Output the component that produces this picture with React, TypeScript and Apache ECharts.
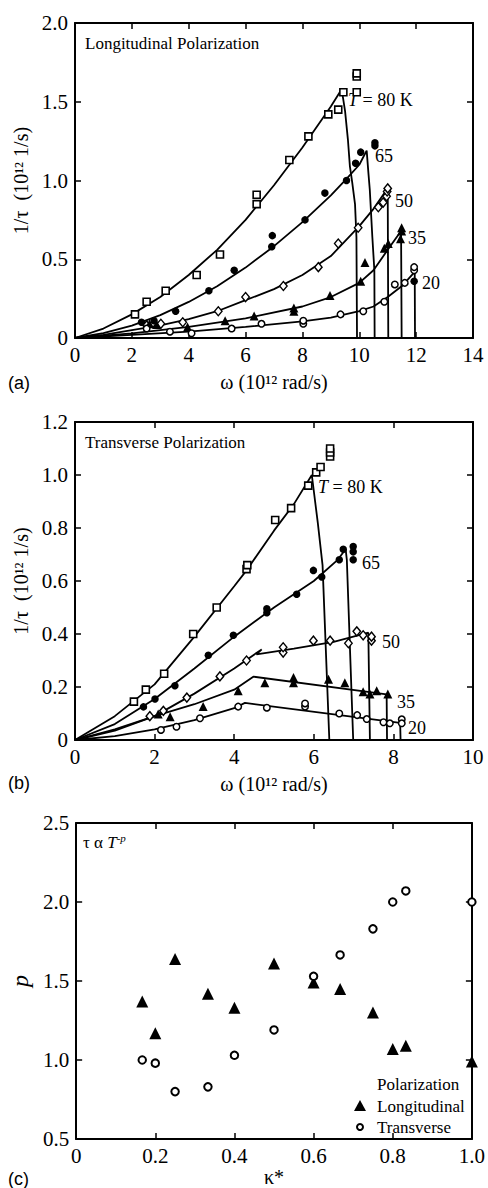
import React, { useEffect, useRef } from 'react';
import * as echarts from 'echarts';

const SERIF = '"Liberation Serif", "Times New Roman", Times, serif';
const SANS = '"Liberation Sans", Arial, sans-serif';

// ---------- Panel (a): longitudinal polarization ----------
const a80 = [[2.11,0.15],[2.52,0.23],[3.19,0.30],[4.28,0.40],[5.10,0.53],[6.39,0.85],[6.39,0.91],[7.54,1.13],[8.21,1.28],[8.91,1.42],[9.26,1.45],[9.44,1.56],[9.91,1.56],[9.91,1.66],[9.91,1.68]];
const a65 = [[2.34,0.10],[2.78,0.11],[3.54,0.17],[4.71,0.30],[5.60,0.43],[6.92,0.58],[6.94,0.65],[8.09,0.75],[8.79,0.92],[9.55,1.0],[9.87,1.11],[10.05,1.18],[10.55,1.22],[10.55,1.24]];
const a50 = [[2.52,0.08],[3.02,0.09],[3.79,0.10],[5.04,0.17],[6.0,0.26],[7.33,0.33],[8.56,0.45],[9.26,0.60],[9.96,0.70],[10.67,0.83],[10.84,0.86],[10.96,0.90],[10.98,0.93],[11.0,0.95]];
const a35 = [[2.62,0.09],[2.87,0.085],[3.96,0.07],[5.28,0.11],[6.30,0.14],[7.70,0.17],[7.70,0.19],[8.97,0.27],[10.05,0.36],[10.2,0.48],[10.88,0.57],[11.02,0.60],[11.45,0.63],[11.49,0.68],[11.49,0.70]];
const a20 = [[2.52,0.06],[3.34,0.04],[4.1,0.03],[5.51,0.06],[6.56,0.09],[8.03,0.09],[8.03,0.11],[9.34,0.15],[10.14,0.17],[10.88,0.23],[11.25,0.34],[11.6,0.35],[11.93,0.43],[11.93,0.45]];
const a20filled = [[11.93,0.36]];

const fitA80 = [[0,0],[1,0.06],[2,0.15],[3,0.26],[4,0.40],[5,0.56],[6,0.75],[7,0.97],[8,1.21],[9,1.47],[9.38,1.58],[9.5,1.44],[9.6,1.26],[9.67,1.09],[9.75,0.99],[9.85,0.85],[9.9,0.64],[9.92,0]];
const fitA65 = [[0,0],[1,0.031],[2,0.079],[3,0.145],[4,0.229],[5,0.329],[6,0.447],[7,0.583],[8,0.736],[9,0.906],[9.55,1.01],[10,1.1],[10.26,1.19],[10.32,1.05],[10.37,0.94],[10.46,0.64],[10.53,0.43],[10.54,0]];
const fitA50 = [[0,0],[1,0.02],[2,0.05],[3,0.08],[4,0.12],[5,0.17],[6,0.24],[7,0.31],[8,0.40],[9,0.52],[10,0.71],[10.5,0.82],[11.0,0.95],[11.02,0]];
const fitA35 = [[0,0],[2,0.03],[4,0.07],[6,0.125],[8,0.2],[9,0.26],[10,0.35],[10.5,0.43],[11,0.56],[11.47,0.68],[11.49,0]];
const fitA20 = [[0,0],[2,0.02],[4,0.04],[6,0.07],[8,0.105],[9,0.13],[10,0.17],[10.5,0.2],[11,0.26],[11.5,0.33],[11.95,0.42],[11.96,0]];

// ---------- Panel (b): transverse polarization ----------
const b80 = [[1.48,0.145],[1.78,0.19],[2.24,0.25],[2.97,0.40],[3.56,0.50],[4.31,0.645],[4.33,0.66],[5.03,0.83],[5.43,0.875],[5.86,0.96],[6.06,1.01],[6.17,1.03],[6.41,1.07],[6.41,1.085],[6.41,1.10]];
const b65 = [[1.72,0.125],[2.01,0.155],[2.51,0.205],[3.35,0.32],[3.98,0.395],[4.82,0.48],[4.82,0.495],[5.57,0.55],[5.99,0.64],[6.2,0.615],[6.64,0.68],[6.74,0.72],[6.99,0.68],[6.99,0.71],[6.99,0.73]];
const b50 = [[1.88,0.09],[2.22,0.11],[2.81,0.16],[3.64,0.24],[4.31,0.30],[5.23,0.33],[5.23,0.35],[5.99,0.375],[6.41,0.375],[6.87,0.365],[7.08,0.41],[7.24,0.395],[7.45,0.375],[7.45,0.39]];
const b35 = [[2.09,0.098],[2.39,0.088],[3.22,0.126],[4.1,0.186],[4.77,0.216],[5.49,0.236],[5.49,0.216],[6.37,0.229],[6.78,0.216],[7.24,0.182],[7.41,0.174],[7.58,0.186],[7.86,0.174]];
const b20 = [[2.16,0.038],[2.55,0.05],[3.14,0.082],[4.1,0.126],[4.82,0.122],[5.78,0.126],[5.78,0.138],[6.64,0.10],[7.09,0.094],[7.33,0.079],[7.75,0.067],[7.91,0.063],[8.21,0.078],[8.21,0.063]];

const fitB80 = [[0,0],[1,0.09],[2,0.21],[3,0.39],[4,0.58],[4.31,0.64],[5,0.79],[5.5,0.89],[5.95,1.0],[6.1,0.82],[6.22,0.66],[6.39,0]];
const fitB65 = [[0,0],[1,0.06],[2,0.155],[3,0.27],[4,0.39],[5,0.5],[6,0.6],[6.6,0.68],[6.8,0.72],[6.83,0.68],[6.99,0]];
const fitB50 = [[0,0],[1,0.035],[2,0.09],[3,0.175],[4,0.27],[4.69,0.342],[4.56,0.323],[5.5,0.345],[6.5,0.37],[7.37,0.405],[7.41,0]];
const fitB35 = [[0,0],[1,0.04],[2,0.09],[3,0.135],[4,0.19],[4.48,0.239],[7.83,0.172],[7.84,0]];
const fitB20 = [[0,0],[1,0.015],[2,0.04],[3,0.075],[4,0.12],[4.27,0.14],[8.17,0.065],[8.18,0]];

// ---------- Panel (c): exponent p vs kappa* ----------
const kappa = [0.167,0.2,0.25,0.333,0.4,0.5,0.6,0.667,0.75,0.8,0.833,1.0];
const pLong = [1.37,1.17,1.64,1.42,1.33,1.61,1.49,1.45,1.30,1.07,1.09,0.99];
const pTrans = [1.0,0.98,0.80,0.83,1.03,1.19,1.53,1.665,1.83,2.0,2.07,2.0];

const black = '#000';
const fmt1 = (v: number) => (Math.abs(v) < 1e-9 ? '0' : v.toFixed(1));
const fmt0 = (v: number) => String(Math.round(v));

function xAxes(grid: number, min: number, max: number, interval: number, name: string, gap: number, formatter: any) {
  const base = {
    gridIndex: grid, type: 'value', min, max, interval,
    axisLine: { show: true, onZero: false, lineStyle: { color: black, width: 2 } },
    axisTick: { show: true, inside: true, length: 6, lineStyle: { color: black, width: 1.5 } },
    splitLine: { show: false },
  };
  return [
    { ...base, position: 'bottom', name, nameLocation: 'middle', nameGap: gap,
      nameTextStyle: { fontFamily: SERIF, fontSize: 20, color: black },
      axisLabel: { color: black, fontFamily: SERIF, fontSize: 21, margin: 6, formatter, showMinLabel: true, showMaxLabel: true } },
    { ...base, position: 'top', axisLabel: { show: false } },
  ];
}
function yAxes(grid: number, min: number, max: number, interval: number, name: string, gap: number, formatter: any, italic = false) {
  const base = {
    gridIndex: grid, type: 'value', min, max, interval,
    axisLine: { show: true, onZero: false, lineStyle: { color: black, width: 2 } },
    axisTick: { show: true, inside: true, length: 6, lineStyle: { color: black, width: 1.5 } },
    splitLine: { show: false },
  };
  return [
    { ...base, position: 'left', name, nameLocation: 'middle', nameGap: gap, nameRotate: 90,
      nameTextStyle: { fontFamily: SERIF, fontSize: italic ? 24 : 20, fontStyle: italic ? 'italic' : 'normal', color: black },
      axisLabel: { color: black, fontFamily: SERIF, fontSize: 21, margin: 7, formatter, showMinLabel: true, showMaxLabel: true } },
    { ...base, position: 'right', axisLabel: { show: false } },
  ];
}

const symOpenSquare = { symbol: 'rect', symbolSize: 7, itemStyle: { color: '#fff', borderColor: black, borderWidth: 1.6, opacity: 1 } };
const symFilledCircle = { symbol: 'circle', symbolSize: 7.5, itemStyle: { color: black, opacity: 1 } };
const symOpenDiamond = { symbol: 'diamond', symbolSize: [7.5, 9], itemStyle: { color: '#fff', borderColor: black, borderWidth: 1.4, opacity: 1 } };
const symFilledTri = { symbol: 'triangle', symbolSize: 9, itemStyle: { color: black, opacity: 1 } };
const symOpenCircle = { symbol: 'circle', symbolSize: 6.5, itemStyle: { color: '#fff', borderColor: black, borderWidth: 1.5, opacity: 1 } };

function fit(name: string, data: number[][], axis: number) {
  return { name, type: 'line', xAxisIndex: axis, yAxisIndex: axis, data, showSymbol: false, symbol: 'none',
    lineStyle: { color: black, width: 1.8, opacity: 1 }, z: 2, silent: true, clip: false };
}
function pts(name: string, data: number[][], axis: number, sym: any) {
  return { name, type: 'scatter', xAxisIndex: axis, yAxisIndex: axis, data, ...sym, z: 3, silent: true, clip: false };
}

function txt(x: number, y: number, text: string, size = 17, extra: any = {}) {
  return { type: 'text', x, y, style: { text, fontFamily: SERIF, fontSize: size, fill: black, align: 'left', verticalAlign: 'middle', ...extra } };
}
function tLabel(x: number, y: number) {
  return { type: 'text', x, y, style: { text: '{i|T} = 80 K', fontFamily: SERIF, fontSize: 18, fill: black, align: 'left', verticalAlign: 'middle',
    rich: { i: { fontStyle: 'italic', fontFamily: SERIF, fontSize: 18, fill: black } } } };
}

const option: any = {
  animation: false,
  backgroundColor: '#fff',
  grid: [
    { left: 75, top: 23, width: 398, height: 315 },
    { left: 75, top: 422, width: 398, height: 318 },
    { left: 75, top: 823, width: 398, height: 320 },
  ],
  xAxis: [
    ...xAxes(0, 0, 14, 2, 'ω (10¹² rad/s)', 34, fmt0),
    ...xAxes(1, 0, 10, 2, 'ω (10¹² rad/s)', 34, fmt0),
    ...xAxes(2, 0, 1, 0.2, 'κ*', 28, fmt1),
  ],
  yAxis: [
    ...yAxes(0, 0, 2, 0.5, '1/τ  (10¹² 1/s)', 40, fmt1),
    ...yAxes(1, 0, 1.2, 0.2, '1/τ  (10¹² 1/s)', 40, fmt1),
    ...yAxes(2, 0.5, 2.5, 0.5, 'p', 38, fmt1, true),
  ],
  series: [
    fit('fitA80', fitA80, 0), fit('fitA65', fitA65, 0), fit('fitA50', fitA50, 0), fit('fitA35', fitA35, 0), fit('fitA20', fitA20, 0),
    pts('a80', a80, 0, symOpenSquare), pts('a65', a65, 0, symFilledCircle), pts('a50', a50, 0, symOpenDiamond),
    pts('a35', a35, 0, symFilledTri), pts('a20', a20, 0, symOpenCircle), pts('a20f', a20filled, 0, symFilledCircle),
    fit('fitB80', fitB80, 2), fit('fitB65', fitB65, 2), fit('fitB50', fitB50, 2), fit('fitB35', fitB35, 2), fit('fitB20', fitB20, 2),
    pts('b80', b80, 2, symOpenSquare), pts('b65', b65, 2, symFilledCircle), pts('b50', b50, 2, symOpenDiamond),
    pts('b35', b35, 2, symFilledTri), pts('b20', b20, 2, symOpenCircle),
    pts('Longitudinal', kappa.map((k, i) => [k, pLong[i]]), 4, { symbol: 'triangle', symbolSize: 12, itemStyle: { color: black, opacity: 1 } }),
    pts('Transverse', kappa.map((k, i) => [k, pTrans[i]]), 4, { symbol: 'circle', symbolSize: 7.5, itemStyle: { color: '#fff', borderColor: black, borderWidth: 2, opacity: 1 } }),
  ],
  graphic: [
    txt(85, 43, 'Longitudinal Polarization'),
    tLabel(348, 100), txt(375, 156, '65', 18), txt(395, 201, '50', 18), txt(408, 238, '35', 18), txt(422, 283, '20', 18),
    txt(85, 442, 'Transverse Polarization'),
    tLabel(318, 487), txt(362, 563, '65', 18), txt(382, 642, '50', 18), txt(397, 702, '35', 18), txt(408, 728, '20', 18),
    { type: 'text', x: 83, y: 842, style: { text: 'τ α {i|T}{s|-p}', fontFamily: SERIF, fontSize: 17, fill: black, align: 'left', verticalAlign: 'middle',
      rich: { i: { fontStyle: 'italic', fontFamily: SERIF, fontSize: 17, fill: black, lineHeight: 20 },
              s: { fontStyle: 'italic', fontFamily: SERIF, fontSize: 11, fill: black, lineHeight: 20, verticalAlign: 'top' } } } },
    txt(377, 1084, 'Polarization'),
    { type: 'polygon', shape: { points: [[354, 1111], [366, 1111], [360, 1100]] }, style: { fill: black } },
    txt(377, 1106, 'Longitudinal'),
    { type: 'circle', shape: { cx: 360, cy: 1127, r: 3 }, style: { fill: '#fff', stroke: black, lineWidth: 2 } },
    txt(377, 1127, 'Transverse'),
    { type: 'text', x: 8, y: 383, style: { text: '(a)', fontFamily: SANS, fontSize: 18, fill: black, align: 'left', verticalAlign: 'middle' } },
    { type: 'text', x: 8, y: 783, style: { text: '(b)', fontFamily: SANS, fontSize: 18, fill: black, align: 'left', verticalAlign: 'middle' } },
    { type: 'text', x: 8, y: 1179, style: { text: '(c)', fontFamily: SANS, fontSize: 18, fill: black, align: 'left', verticalAlign: 'middle' } },
  ],
};

export default function App() {
  const ref = useRef<HTMLDivElement>(null);
  useEffect(() => {
    const chart = echarts.init(ref.current!, null, { renderer: 'svg' });
    chart.setOption(option);
    return () => chart.dispose();
  }, []);
  return <div ref={ref} style={{ position: 'absolute', left: 0, top: 0, width: 488, height: 1188 }} />;
}
